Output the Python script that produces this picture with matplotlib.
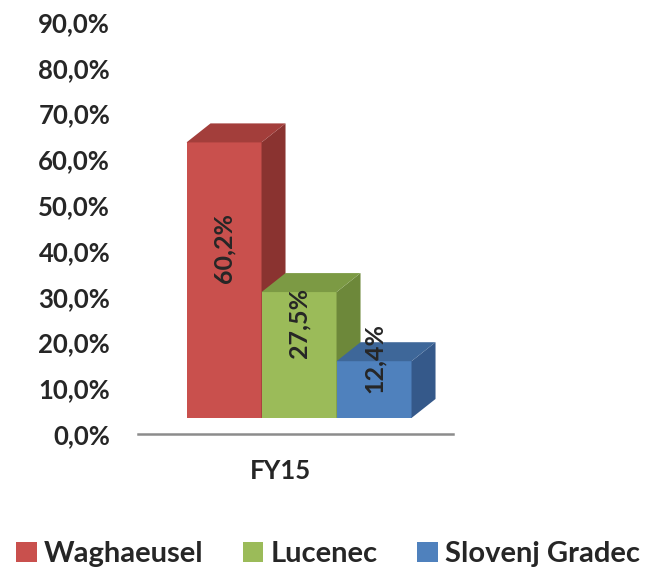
import matplotlib
matplotlib.use("Agg")
import matplotlib.pyplot as plt
from matplotlib.patches import Polygon, Patch

categories = ["FY15"]
series = ["Waghaeusel", "Lucenec", "Slovenj Gradec"]
values = [60.2, 27.5, 12.4]
labels = ["60,2%", "27,5%", "12,4%"]
yticks = [0, 10, 20, 30, 40, 50, 60, 70, 80, 90]
ytick_labels = ["0,0%", "10,0%", "20,0%", "30,0%", "40,0%", "50,0%", "60,0%", "70,0%", "80,0%", "90,0%"]

front_colors = ["#C9504D", "#9BBB59", "#4F81BD"]
top_colors = ["#A33E3B", "#7C9A44", "#3E6799"]
side_colors = ["#8A3330", "#6D883A", "#35598A"]

plt.rcParams['font.family'] = ['Lato', 'DejaVu Sans']
TXT = "#262626"

fig = plt.figure(figsize=(6.52, 5.70), dpi=100)
ax = fig.add_axes([138/652, 136/570, 315/652, 412/570])
ax.set_xlim(-2.147, 2.053)
ax.set_ylim(0, 90)

base = 3.5     # front offset of the bars above the floor edge
dx, dy = 0.32, 4.15  # 3D depth
width = 1.0
xs = [-1, 0, 1]

for i, (x, v) in enumerate(zip(xs, values)):
    ax.bar(x, v, bottom=base, width=width, color=front_colors[i], edgecolor='none', zorder=2 + i)
    l, r = x - width / 2, x + width / 2
    top = [(l, base + v), (r, base + v), (r + dx, base + v + dy), (l + dx, base + v + dy)]
    side = [(r, base), (r + dx, base + dy), (r + dx, base + v + dy), (r, base + v)]
    ax.add_patch(Polygon(side, closed=True, facecolor=side_colors[i], edgecolor='none', zorder=2 + i))
    ax.add_patch(Polygon(top, closed=True, facecolor=top_colors[i], edgecolor='none', zorder=2 + i))

for i, (x, v) in enumerate(zip(xs, values)):
    ax.text(x, base + v / 2 + 7, labels[i], rotation=90, ha='center', va='center',
            fontsize=18, fontweight='bold', color=TXT, zorder=10)

for s in ['top', 'right', 'left']:
    ax.spines[s].set_visible(False)
ax.spines['bottom'].set_color('#8c8c8c')
ax.spines['bottom'].set_linewidth(1.8)

ax.set_yticks(yticks)
ax.set_yticklabels(ytick_labels, fontsize=18.5, fontweight='bold', color=TXT)
ax.tick_params(axis='y', length=0, pad=20)
ax.set_xticks([-0.253])
ax.set_xticklabels(categories, fontsize=18.5, fontweight='bold', color=TXT)
ax.tick_params(axis='x', length=0, pad=18)

handles = [Patch(facecolor=c, edgecolor='none') for c in front_colors]
leg = fig.legend(handles, series, loc='center', bbox_to_anchor=(328/652, 16/570), ncol=3,
                 frameon=False, prop={'family': ['Lato', 'DejaVu Sans'], 'weight': 'bold', 'size': 21},
                 handlelength=0.7, handleheight=0.7, handletextpad=0.25, columnspacing=1.35,
                 labelcolor=TXT)

fig.savefig("out.png", dpi=100, facecolor='white')
